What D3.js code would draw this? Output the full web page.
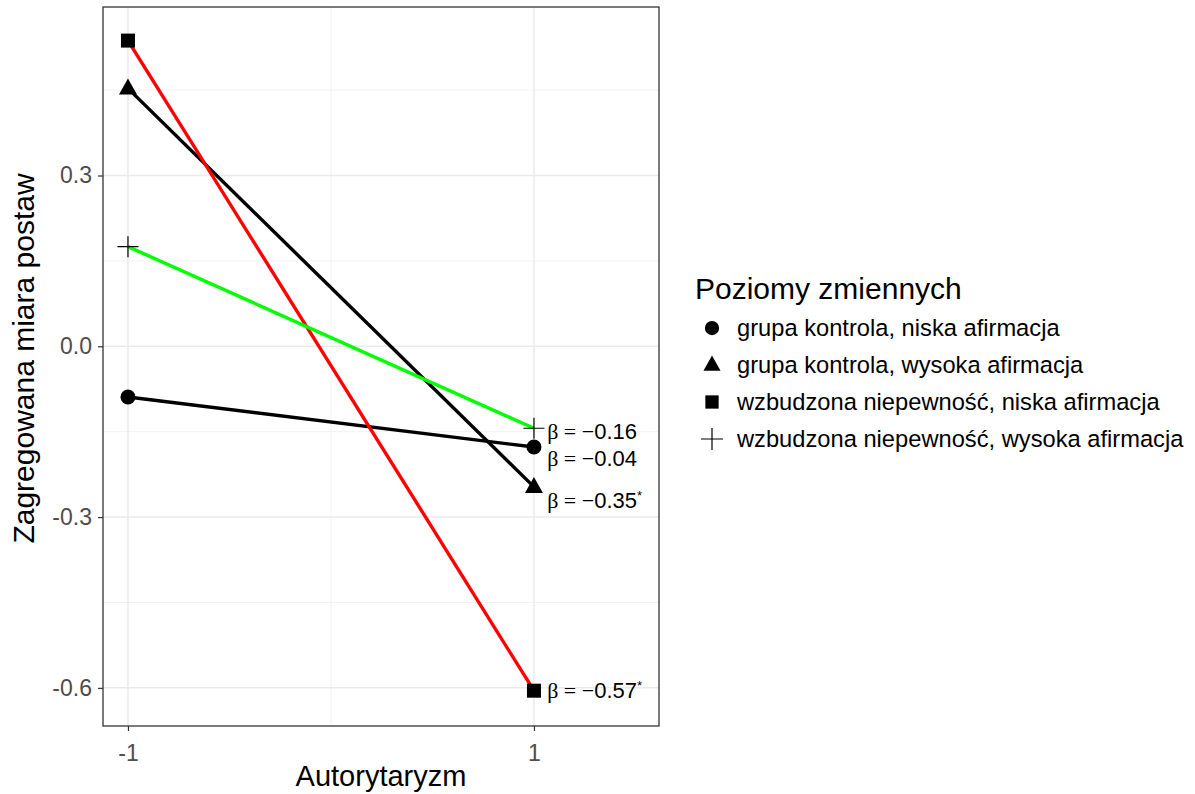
<!DOCTYPE html>
<html>
<head>
<meta charset="utf-8">
<script src="https://cdn.jsdelivr.net/npm/d3@7"></script>
<style>
  body { margin: 0; background: #fff; }
  text { font-family: "Liberation Sans", Arial, sans-serif; }
</style>
</head>
<body>
<div id="chart"></div>
<script>
// series data
var groups = [
  "grupa kontrola, niska afirmacja",
  "grupa kontrola, wysoka afirmacja",
  "wzbudzona niepewność, niska afirmacja",
  "wzbudzona niepewność, wysoka afirmacja"
];
var xValues = [-1, 1];
var lowAuth = [-0.089, 0.453, 0.537, 0.175];
var highAuth = [-0.177, -0.247, -0.605, -0.144];
var lineColors = ["#000000", "#000000", "#FF0000", "#00FF00"];
var shapes = ["circle", "triangle", "square", "cross"];

// slope annotations
var betaText = ["0.04", "0.35", "0.16", "0.57"];
var betaStar = [false, true, false, true];
var betaY = [-0.196, -0.270, -0.149, -0.604];

var xTicks = [-1, 1];
var yTicks = [0.3, 0.0, -0.3, -0.6];
var yMinor = [0.45, 0.15, -0.15, -0.45];
var xMinor = [0];

var svgWidth = 1195, svgHeight = 794;
var margin = { top: 7, left: 103, right: 536, bottom: 68 };
var width = svgWidth - margin.left - margin.right;
var height = svgHeight - margin.top - margin.bottom;

var svg = d3.select("#chart").append("svg")
  .attr("width", svgWidth)
  .attr("height", svgHeight);

var chartGroup = svg.append("g")
  .attr("transform", `translate(${margin.left}, ${margin.top})`);

var xScale = d3.scaleLinear().domain([-1.123, 1.616]).range([0, width]);
var yScale = d3.scaleLinear().domain([-0.667, 0.596]).range([height, 0]);

// grid
chartGroup.selectAll(".yminor").data(yMinor).enter().append("line")
  .attr("x1", 0).attr("x2", width)
  .attr("y1", d => yScale(d)).attr("y2", d => yScale(d))
  .attr("stroke", "#F2F2F2").attr("stroke-width", 1);
chartGroup.selectAll(".xminor").data(xMinor).enter().append("line")
  .attr("y1", 0).attr("y2", height)
  .attr("x1", d => xScale(d)).attr("x2", d => xScale(d))
  .attr("stroke", "#F2F2F2").attr("stroke-width", 1);
chartGroup.selectAll(".ymajor").data(yTicks).enter().append("line")
  .attr("x1", 0).attr("x2", width)
  .attr("y1", d => yScale(d)).attr("y2", d => yScale(d))
  .attr("stroke", "#EBEBEB").attr("stroke-width", 1.5);
chartGroup.selectAll(".xmajor").data(xTicks).enter().append("line")
  .attr("y1", 0).attr("y2", height)
  .attr("x1", d => xScale(d)).attr("x2", d => xScale(d))
  .attr("stroke", "#EBEBEB").attr("stroke-width", 1.5);

// axes
var bottomAxis = d3.axisBottom(xScale).tickValues(xTicks).tickSize(5).tickSizeOuter(0);
var leftAxis = d3.axisLeft(yScale).tickValues(yTicks).tickSize(5).tickSizeOuter(0);

var gx = chartGroup.append("g")
  .attr("transform", `translate(0, ${height})`)
  .call(bottomAxis);
var gy = chartGroup.append("g").call(leftAxis);

[gx, gy].forEach(function(g) {
  g.select(".domain").remove();
  g.selectAll(".tick line").attr("stroke", "#333333").attr("stroke-width", 1.2);
  g.selectAll(".tick text").attr("fill", "#4D4D4D")
    .attr("font-size", 23).style("font-size", "23px")
    .style("font-family", "'Liberation Sans', Arial, sans-serif");
});
gx.selectAll(".tick text").attr("y", 0).attr("dy", 0)
  .attr("transform", "translate(0, 35)")
  .text(d => String(d));
gy.selectAll(".tick text").attr("x", -11)
  .text(d => d.toFixed(1));

// lines
var line = d3.line().x(d => xScale(d[0])).y(d => yScale(d[1]));
groups.forEach(function(g, i) {
  chartGroup.append("path")
    .datum([[xValues[0], lowAuth[i]], [xValues[1], highAuth[i]]])
    .attr("d", line)
    .attr("fill", "none")
    .attr("stroke", lineColors[i])
    .attr("stroke-width", 3.4);
});

// point shapes
function drawShape(sel, shape, x, y, scale) {
  var s = scale || 1;
  if (shape === "circle") {
    sel.append("circle").attr("cx", x).attr("cy", y).attr("r", 7.5 * s).attr("fill", "#000");
  } else if (shape === "triangle") {
    var h = 16 * s, w = 18 * s;
    sel.append("path")
      .attr("d", `M${x},${y - h * 0.62}L${x + w / 2},${y + h * 0.38}L${x - w / 2},${y + h * 0.38}Z`)
      .attr("fill", "#000");
  } else if (shape === "square") {
    var a = 14 * s;
    sel.append("rect").attr("x", x - a / 2).attr("y", y - a / 2)
      .attr("width", a).attr("height", a).attr("fill", "#000");
  } else {
    var c = 10.5 * s;
    sel.append("path")
      .attr("d", `M${x - c},${y}L${x + c},${y}M${x},${y - c}L${x},${y + c}`)
      .attr("stroke", "#000").attr("stroke-width", 1.2).attr("fill", "none");
  }
}

groups.forEach(function(g, i) {
  drawShape(chartGroup, shapes[i], xScale(xValues[0]), yScale(lowAuth[i]));
  drawShape(chartGroup, shapes[i], xScale(xValues[1]), yScale(highAuth[i]));
});

// beta labels (plotmath-like: symbol glyphs serif, numbers sans)
var serif = "'Liberation Serif', 'Times New Roman', serif";
groups.forEach(function(g, i) {
  var t = chartGroup.append("text")
    .attr("x", xScale(1.065))
    .attr("y", yScale(betaY[i]))
    .attr("dy", "0.35em")
    .style("font-size", "22px")
    .attr("fill", "#000");
  t.append("tspan").style("font-family", serif).text("β = −");
  t.append("tspan").text(betaText[i]);
  if (betaStar[i]) {
    t.append("tspan").attr("dy", "-0.6em").style("font-size", "13px").text("*");
  }
});

// panel border
chartGroup.append("rect")
  .attr("width", width).attr("height", height)
  .attr("fill", "none").attr("stroke", "#333333").attr("stroke-width", 1.3);

// axis titles
svg.append("text")
  .attr("x", margin.left + width / 2)
  .attr("y", 786)
  .attr("text-anchor", "middle")
  .style("font-size", "29px")
  .text("Autorytaryzm");

svg.append("text")
  .attr("transform", `translate(34, ${margin.top + height / 2 - 8}) rotate(-90)`)
  .attr("text-anchor", "middle")
  .style("font-size", "30px")
  .text("Zagregowana miara postaw");

// legend
var legend = svg.append("g").attr("transform", "translate(695, 0)");
legend.append("text").attr("x", 0).attr("y", 299).style("font-size", "30px").text("Poziomy zmiennych");
groups.forEach(function(g, i) {
  var yy = 328 + i * 37;
  drawShape(legend, shapes[i], 17, yy, i === 3 ? 1.05 : 0.95);
  legend.append("text").attr("x", 42).attr("y", yy).attr("dy", "0.35em")
    .style("font-size", "23.7px").text(g);
});
</script>
</body>
</html>
